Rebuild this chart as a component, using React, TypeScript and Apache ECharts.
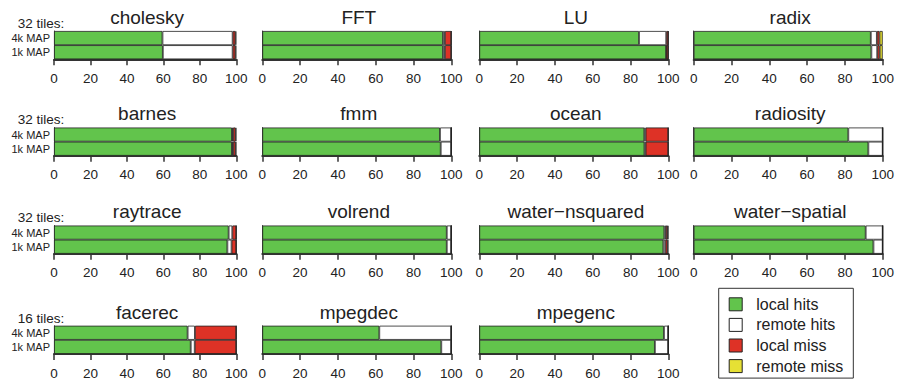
import React, { useEffect, useRef } from "react";
import * as echarts from "echarts";

const benchmarks = [
  "cholesky", "FFT", "LU", "radix",
  "barnes", "fmm", "ocean", "radiosity",
  "raytrace", "volrend", "water\u2212nsquared", "water\u2212spatial",
  "facerec", "mpegdec", "mpegenc",
];
const tileLabels = ["32 tiles:", "32 tiles:", "32 tiles:", "16 tiles:"];
const mapConfigs = ["1k MAP", "4k MAP"];
const seriesNames = ["local hits", "remote hits", "local miss", "remote miss"];

const localHits4k = [59.5, 95.6, 84.5, 93.7, 97.6, 94.0, 87.3, 81.8, 95.8, 97.6, 97.9, 91.0, 73.3, 61.9, 97.7];
const remoteHits4k = [38.5, 1.0, 14.4, 3.2, 0.6, 6.0, 0.7, 18.2, 2.0, 2.4, 0.8, 9.0, 4.0, 38.1, 2.3];
const localMiss4k = [1.5, 3.4, 1.1, 1.4, 1.4, 0, 12.0, 0, 2.2, 0, 1.0, 0, 22.7, 0, 0];
const remoteMiss4k = [0.5, 0, 0, 1.7, 0.4, 0, 0, 0, 0, 0, 0.3, 0, 0, 0, 0];

const localHits1k = [59.7, 95.6, 98.9, 94.0, 97.6, 94.4, 87.4, 92.4, 95.1, 97.6, 97.4, 95.1, 75.0, 94.7, 92.9];
const remoteHits1k = [38.3, 1.0, 0, 3.1, 0.6, 5.6, 0.6, 7.6, 2.3, 2.4, 1.0, 4.9, 2.2, 5.3, 7.1];
const localMiss1k = [1.5, 3.4, 1.1, 1.3, 1.4, 0, 12.0, 0, 2.6, 0, 1.2, 0, 22.8, 0, 0];
const remoteMiss1k = [0.5, 0, 0, 1.6, 0.4, 0, 0, 0, 0, 0, 0.4, 0, 0, 0, 0];

const xMin = 0;
const xMax = 100;
const xInterval = 20;

// layout (not data)
const colLeft = [54, 262.3, 479.3, 693.7];
const colWidth = [182.3, 189, 189, 189];
const rowTop = [31, 127.5, 225.5, 325.7];
const plotHeight = 28.3;
const colors = ["#62c44c", "#ffffff", "#de3226", "#e6e034"];
const FONT = "'Liberation Sans', Arial, Helvetica, sans-serif";

export default function App() {
  const ref = useRef<HTMLDivElement>(null);

  useEffect(() => {
    if (!ref.current) return;
    const chart = echarts.init(ref.current, undefined, { renderer: "svg" });

    const values4k = [localHits4k, remoteHits4k, localMiss4k, remoteMiss4k];
    const values1k = [localHits1k, remoteHits1k, localMiss1k, remoteMiss1k];

    const grids: any[] = [];
    const xAxes: any[] = [];
    const yAxes: any[] = [];
    const series: any[] = [];
    const graphics: any[] = [];

    benchmarks.forEach((name, i) => {
      const row = Math.floor(i / 4);
      const col = i % 4;
      grids.push({
        left: colLeft[col],
        top: rowTop[row],
        width: colWidth[col],
        height: plotHeight,
        containLabel: false,
      });
      xAxes.push({
        type: "value",
        gridIndex: i,
        min: xMin,
        max: xMax,
        interval: xInterval,
        axisLine: { show: true, lineStyle: { color: "#333", width: 2 } },
        axisTick: { show: true, length: 6, lineStyle: { color: "#333", width: 1.5 } },
        axisLabel: { fontSize: 13.5, color: "#222", margin: 12, fontFamily: FONT },
        splitLine: { show: false },
      });
      yAxes.push({
        type: "category",
        gridIndex: i,
        data: mapConfigs,
        axisLine: { show: true, lineStyle: { color: "#444", width: 1 } },
        axisTick: { show: false },
        axisLabel: {
          show: col === 0,
          interval: 0,
          fontSize: 11,
          margin: 4,
          color: "#222",
          fontFamily: FONT,
        },
      });
      seriesNames.forEach((sn, k) => {
        series.push({
          name: sn,
          type: "bar",
          stack: "p" + i,
          xAxisIndex: i,
          yAxisIndex: i,
          barCategoryGap: "0%",
          data: [values1k[k][i], values4k[k][i]],
          itemStyle: { color: colors[k], borderColor: "#222", borderWidth: 0.8 },
          emphasis: { disabled: true },
        });
      });
      graphics.push({
        type: "text",
        x: colLeft[col] + colWidth[col] / 2 + 2,
        y: rowTop[row] - 13.6,
        style: {
          text: name,
          fontSize: 19,
          fontFamily: FONT,
          fill: "#222",
          align: "center",
          verticalAlign: "middle",
        },
      });
    });

    tileLabels.forEach((t, r) => {
      graphics.push({
        type: "text",
        x: 17.7,
        y: rowTop[r] - 7.7,
        style: {
          text: t,
          fontSize: 13.5,
          fontFamily: FONT,
          fill: "#222",
          align: "left",
          verticalAlign: "middle",
        },
      });
    });

    chart.setOption({
      animation: false,
      backgroundColor: "#ffffff",
      grid: grids,
      xAxis: xAxes,
      yAxis: yAxes,
      series,
      graphic: graphics,
      legend: {
        data: seriesNames,
        orient: "vertical",
        left: 718.7,
        top: 288.3,
        padding: [8, 10, 4, 10],
        borderColor: "#333",
        borderWidth: 1,
        itemWidth: 13,
        itemHeight: 13,
        itemGap: 4.6,
        icon: "rect",
        selectedMode: false,
        itemStyle: { borderColor: "#222", borderWidth: 1 },
        textStyle: {
          fontSize: 16,
          lineHeight: 16,
          color: "#222",
          fontFamily: FONT,
          padding: [0, 0, 0, 9],
        },
      },
    });

    return () => chart.dispose();
  }, []);

  return (
    <div
      ref={ref}
      style={{ position: "fixed", left: 0, top: 0, width: 901, height: 381, background: "#fff" }}
    />
  );
}
